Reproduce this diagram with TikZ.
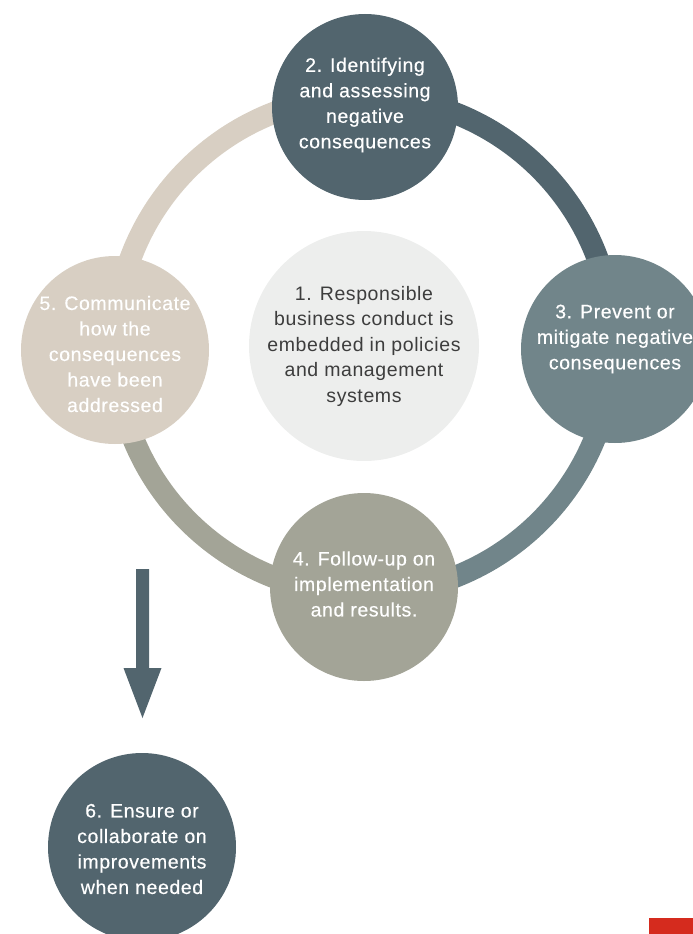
\documentclass[tikz,border=0pt]{standalone}
\usepackage{fontspec}
\setmainfont[LetterSpace=3]{Liberation Sans}
\definecolor{slate}{HTML}{52656E}
\definecolor{steel}{HTML}{71858A}
\definecolor{sage}{HTML}{A3A497}
\definecolor{sand}{HTML}{D8CFC3}
\definecolor{mist}{HTML}{EDEEED}
\definecolor{ink}{HTML}{3D3D3D}
\definecolor{signal}{HTML}{D52B1E}

\begin{document}
\begin{tikzpicture}[x=1pt, y=1pt,
      stepcirc/.style={circle,inner sep=0pt,minimum size=188pt},
      lbl/.style={align=center,text=white,
        font=\fontsize{19.5}{25.5}\selectfont\addfontfeature{FakeBold=0.4}},
      lblin/.style={align=center,text=ink,font=\fontsize{19.5}{25.5}\selectfont},
      ring/.style={line width=22pt}]
    \useasboundingbox (0,0) rectangle (693,-934);
    \clip (0,0) rectangle (693,-934);
    \coordinate (ctr) at (364,-345);
    % the ring, one quarter per step
    \draw[ring,slate] (ctr) ++(90:249) arc[start angle=90,end angle=0,radius=249];
    \draw[ring,steel] (ctr) ++(0:249) arc[start angle=0,end angle=-90,radius=249];
    \draw[ring,sage] (ctr) ++(-90:249) arc[start angle=-90,end angle=-180,radius=249];
    \draw[ring,sand] (ctr) ++(180:249) arc[start angle=180,end angle=90,radius=249];
    % steps
    \node (c1) [stepcirc,minimum size=230pt,fill=mist,
      label={[lblin]center:{1. Responsible\\business conduct is\\embedded in policies\\and management\\systems}}] at (364,-346) {};
    \node (c2) [stepcirc,minimum size=186pt,fill=slate,
      label={[lbl,yshift=2pt]center:{2. Identifying\\and assessing\\negative\\consequences}}] at (365,-107) {};
    \node (c3) [stepcirc,fill=steel,
      label={[lbl,yshift=10pt]center:{3. Prevent or\\mitigate negative\\consequences}}] at (615,-349) {};
    \node (c4) [stepcirc,fill=sage,
      label={[lbl,yshift=3pt]center:{4. Follow-up on\\implementation\\and results.}}] at (364,-587) {};
    \node (c5) [stepcirc,fill=sand,
      label={[lbl,yshift=-4pt]center:{5. Communicate\\how the\\consequences\\have been\\addressed}}] at (115,-350) {};
    \node (c6) [stepcirc,fill=slate,
      label={[lbl,yshift=-2pt]center:{6. Ensure or\\collaborate on\\improvements\\when needed}}] at (142,-847) {};
    % arrow down to step 6
    \coordinate (arrtop) at (142.5,-569);
    \coordinate (arrtip) at (142.5,-718);
    \fill[slate] (arrtop) ++(-6.5,0) -- ++(13,0) -- ++(0,-99) -- ++(12.5,0)
      -- (arrtip) -- ++(-19,50) -- ++(12.5,0) -- cycle;
    \fill[signal] (649,-918) rectangle (700,-940);
  \end{tikzpicture}
\end{document}
